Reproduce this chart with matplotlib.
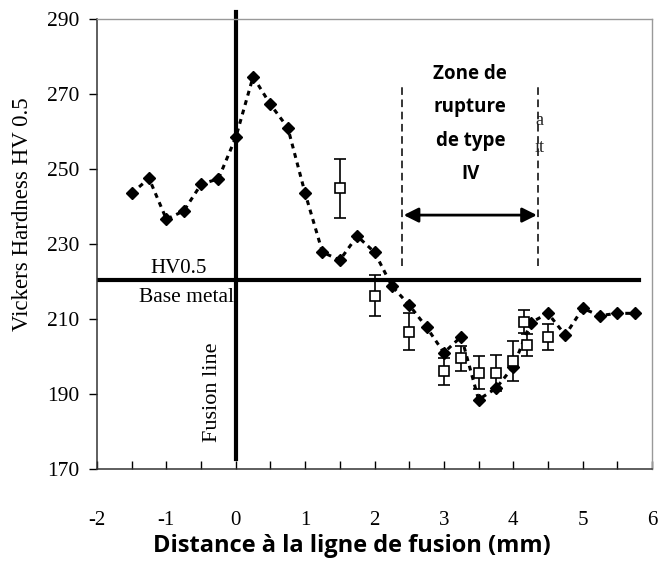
import matplotlib.pyplot as plt

plt.rcParams['axes.unicode_minus'] = False

# Diamond series (hardness profile)
dist_hv = [-1.5, -1.25, -1.0, -0.75, -0.5, -0.25, 0.0, 0.25, 0.5, 0.75, 1.0, 1.25,
           1.5, 1.75, 2.0, 2.25, 2.5, 2.75, 3.0, 3.25, 3.5, 3.75, 4.0, 4.25,
           4.5, 4.75, 5.0, 5.25, 5.5, 5.75]
hv = [243.5, 247.5, 236.6, 238.8, 245.9, 247.4, 258.4, 274.6, 267.2, 261.0, 243.5, 227.8,
      225.7, 232.1, 227.8, 218.8, 213.7, 207.8, 201.0, 205.3, 188.5, 191.5, 197.3, 209.0,
      211.5, 205.7, 212.8, 210.9, 211.5, 211.5]

# Open squares with error bars
dist_sq = [1.5, 2.0, 2.5, 3.0, 3.25, 3.5, 3.75, 4.0, 4.15, 4.2, 4.5]
hv_sq = [244.8, 216.2, 206.6, 196.0, 199.5, 195.7, 195.7, 198.8, 209.3, 203.1, 205.2]
err_sq = [7.8, 5.5, 5.0, 3.6, 3.4, 4.3, 4.8, 5.3, 3.0, 3.0, 3.4]

x_ticks = [-2, -1, 0, 1, 2, 3, 4, 5, 6]
x_minor = [-1.5, -0.5, 0.5, 1.5, 2.5, 3.5, 4.5, 5.5]
y_ticks = [170, 190, 210, 230, 250, 270, 290]

base_metal_hv = 220.4
zone_start, zone_end = 2.40, 4.36

fig = plt.figure(figsize=(6.62, 5.65), dpi=100)
ax = fig.add_axes([0.1465, 0.170, 0.8385, 0.7964])

serif = 'Liberation Serif'

ax.plot(dist_hv, hv, color='black', linestyle=(0, (1.6, 1.6)), linewidth=2.2,
        marker='D', markersize=6.5, zorder=3)
ax.errorbar(dist_sq, hv_sq, yerr=err_sq, fmt='s', markersize=7.5, markerfacecolor='white',
            markeredgecolor='black', markeredgewidth=1.2, ecolor='black', elinewidth=1.2,
            capsize=4, capthick=1.2, zorder=4)

# Fusion line and base metal line
ax.plot([0, 0], [172.6, 291.8], color='black', linewidth=3, clip_on=False, zorder=2)
ax.plot([-2, 5.81], [base_metal_hv, base_metal_hv], color='black', linewidth=3, zorder=2)

# Zone de rupture de type IV
for xz in (zone_start, zone_end):
    ax.plot([xz, xz], [224.0, 272.4], color='black', linestyle=(0, (5, 3)), linewidth=1.1)
ax.annotate('', xy=(zone_end - 0.02, 237.7), xytext=(zone_start + 0.02, 237.7),
            arrowprops=dict(arrowstyle='<|-|>', color='black', lw=2,
                            mutation_scale=22, shrinkA=0, shrinkB=0))
ax.text(3.38, 262.0, 'Zone de\nrupture\nde type\nIV', ha='center', va='center',
        fontsize=13.5, fontweight='bold', family='Open Sans', linespacing=1.9)
ax.text(4.38, 263, 'a', ha='center', va='center', fontsize=13, family=serif, color='#222222')
ax.text(4.38, 255.8, 'ıt', ha='center', va='center', fontsize=13, family=serif, color='#222222')

ax.text(-0.83, 220.9, 'HV0.5', ha='center', va='bottom', fontsize=15, family=serif)
ax.text(-0.02, 215.7, 'Base metal', ha='right', va='center', fontsize=15.5, family=serif)
ax.text(-0.34, 190.5, 'Fusion line', ha='center', va='center', rotation=90,
        fontsize=16, family=serif)

ax.set_xlim(-2, 6)
ax.set_ylim(170, 290)
ax.set_xticks(x_ticks)
ax.set_xticks(x_minor, minor=True)
ax.set_yticks(y_ticks)
ax.tick_params(axis='x', which='both', direction='in', length=6, width=1,
               pad=30, labelsize=15)
ax.tick_params(axis='y', direction='out', length=6, width=1, pad=7, labelsize=15.5)
for lab in ax.get_xticklabels() + ax.get_yticklabels():
    lab.set_family(serif)

for side in ('left', 'bottom'):
    ax.spines[side].set_color('#333333')
    ax.spines[side].set_linewidth(1.1)
for side in ('top', 'right'):
    ax.spines[side].set_color('#999999')
    ax.spines[side].set_linewidth(1.0)

ax.set_ylabel('Vickers Hardness HV 0.5', family=serif, fontsize=16.5)
ax.yaxis.set_label_coords(-0.115, 0.567)
fig.text(352 / 662, 1 - 552 / 565, 'Distance à la ligne de fusion (mm)', family='Open Sans',
         fontweight='bold', fontsize=17, ha='center', va='baseline')

fig.savefig('out.png', dpi=100)
